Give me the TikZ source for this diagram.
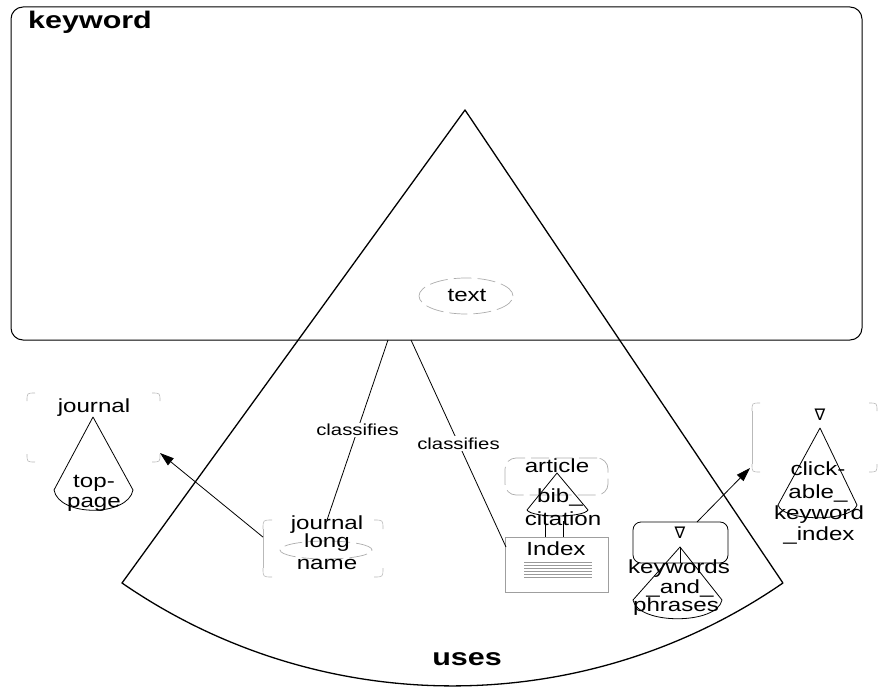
\documentclass[tikz,border=0pt]{standalone}
\usepackage{fontspec}
\setmainfont{Liberation Sans}[FakeStretch=1.27]
\newfontfamily\symfont{DejaVu Sans}
\usetikzlibrary{arrows.meta,calc,shapes.geometric}

% four rounded corner ticks of a (named) box
\newcommand\cornerticks[2]{%
  \draw[faint] ($(#1.north west)+(0,#2)$) .. controls (#1.north west) .. ($(#1.north west)+(#2,0)$);
  \draw[faint] ($(#1.north east)+(-#2,0)$) .. controls (#1.north east) .. ($(#1.north east)+(0,#2)$);
  \draw[faint] ($(#1.south west)+(0,-#2)$) .. controls (#1.south west) .. ($(#1.south west)+(#2,0)$);
  \draw[faint] ($(#1.south east)+(-#2,0)$) .. controls (#1.south east) .. ($(#1.south east)+(0,-#2)$);
}
% cone: apex, left corner, right corner, depth of the bottom curve
\newcommand\cone[4]{%
  \draw[conestroke] (#2) -- (#1) -- (#3) .. controls +(-5,#4) and +(5,#4) .. (#2);
}

\begin{document}
\begin{tikzpicture}[x=1pt,y=-1pt,
  lbl/.style={inner sep=0pt, anchor=base, font=\fontsize{19}{23}\selectfont},
  rel/.style={inner sep=1.5pt, fill=white, font=\fontsize{16}{19}\selectfont},
  heading/.style={inner sep=0pt, font=\bfseries\fontsize{24}{29}\selectfont},
  nabla/.style={inner sep=0pt, font=\symfont\fontsize{16}{16}\selectfont},
  frame/.style={draw=black, line width=1pt},
  sector/.style={draw=black, line width=1.3pt, line join=round},
  conestroke/.style={draw=black, line width=0.8pt, line join=round},
  faint/.style={draw=gray!55, line width=0.6pt},
  faintdash/.style={draw=gray!65, line width=0.7pt, dash pattern=on 18pt off 6pt},
  region/.style={inner sep=0pt, outer sep=0pt},
  link/.style={draw=black, line width=0.8pt},
  pointer/.style={link, -{Triangle[length=14pt,width=9pt]}},
]
\useasboundingbox (0,0) rectangle (878,687);

% ---------- keyword frame ----------
\node[frame, region, rounded corners=12pt, minimum width=851pt, minimum height=333pt,
      anchor=north west] (kw) at (11,7) {};
\node[heading, anchor=base west] (kwlabel) at (28,29) {keyword};

% text
\node[ellipse, faintdash, region, minimum width=94pt, minimum height=36pt] (txt) at (466,296) {};
\node[lbl] (txtlabel) at (467,301) {text};

% ---------- uses sector ----------
\coordinate (apex) at (465,110);
\coordinate (uL) at (122,583);
\draw[sector] (apex) -- (uL) arc[start angle=124.6, end angle=55.4, radius=582] -- cycle;
\node[heading, anchor=base] (uses) at (467,665) {uses};

% ---------- journal / top-page ----------
\node[region, minimum width=133pt, minimum height=69pt] (jtop) at (93.5,427.5) {};
\cornerticks{jtop}{8}
\node[lbl] (jtoplabel) at (94,412) {journal};
\coordinate (jA) at (93,417);
\coordinate (jL) at (54,490);
\coordinate (jR) at (133,490);
\cone{jA}{jL}{jR}{27}
\node[lbl] (top1) at (94,487) {top-};
\node[lbl] (top2) at (94,507) {page};

% ---------- journal long name ----------
\node[region, minimum width=120pt, minimum height=57pt] (lname) at (323,548.5) {};
\cornerticks{lname}{9}
\draw[faint] ($(lname.north west)+(0,9)$) -- ($(lname.south west)+(0,-9)$);
\node[lbl] (ln1) at (327,529) {journal};
\node[ellipse, faintdash, region, minimum width=92pt, minimum height=18pt] (lnell) at (326,550) {};
\node[lbl] (ln2) at (327,547) {long};
\node[lbl] (ln3) at (327,569) {name};

% ---------- article / bib_citation ----------
\node[faintdash, region, rounded corners=11pt, minimum width=103pt, minimum height=37pt] (art) at (556.5,476.5) {};
\node[lbl] (artlabel) at (557,472) {article};
\coordinate (bA) at (557,473);
\coordinate (bL) at (527,510);
\coordinate (bR) at (588,510);
\cone{bA}{bL}{bR}{8}
\node[lbl] (bib1) at (560,502) {bib\_};
\node[lbl] (bib2) at (563,525) {citation};

% ---------- Index ----------
\node[draw=gray!75, line width=0.6pt, region, minimum width=103pt, minimum height=55pt] (idx) at (556.5,564.5) {};
\node[lbl] (idxlabel) at (556,555) {Index};
\foreach \yy in {562,565,568,571,574,577}
  \draw[gray!80, line width=0.5pt] ($(idx.north west)+(19,\yy-537)$) -- ($(idx.north east)+(-16,\yy-537)$);
\coordinate (bt1) at (545,521);
\coordinate (bt2) at (563,521);
\draw[link, line width=0.7pt] (bt1) -- (bt1 |- idx.north);
\draw[link, line width=0.7pt] (bt2) -- (bt2 |- idx.north);

% ---------- keywords_and_phrases ----------
\node[draw=black, line width=0.8pt, region, rounded corners=8pt, minimum width=95pt, minimum height=41pt] (kwp) at (680.5,542.5) {};
\node[nabla] (nab1) at (680,533) {∇};
\coordinate (kA) at (680,547);
\coordinate (kL) at (633,600);
\coordinate (kR) at (722,600);
\cone{kA}{kL}{kR}{25}
\draw[link, line width=0.6pt] (kA) -- (kA |- kwp.south);
\node[lbl] (kp1) at (679,573) {keywords};
\node[lbl] (kp2) at (680,593) {\_and\_};
\node[lbl] (kp3) at (676,611) {phrases};

% ---------- clickable_keyword_index ----------
\node[region, minimum width=125pt, minimum height=69pt] (click) at (814.5,437.5) {};
\cornerticks{click}{8}
\draw[faint] ($(click.north west)+(0,8)$) -- ($(click.south west)+(0,-8)$);
\node[nabla] (nab2) at (820,415) {∇};
\coordinate (cA) at (820,428);
\coordinate (cL) at (778,505);
\coordinate (cR) at (857,505);
\cone{cA}{cL}{cR}{17}
\node[lbl] (ck1) at (818,475) {click-};
\node[lbl] (ck2) at (818,498) {able\_};
\node[lbl] (ck3) at (819,519) {keyword};
\node[lbl] (ck4) at (819,540) {\_index};

% ---------- relations ----------
\draw[link] ($(kw.south west)+(377,0)$) -- node[rel] {classifies} ($(lname.north)+(4,0)$);
\draw[link] ($(kw.south west)+(400,0)$) -- node[rel] {classifies} ($(idx.north west)+(1,10)$);

\draw[pointer] ($(lname.north west)!0.3!(lname.south west)$) -- ($(jtop.south east)+(0,-9)$);
\draw[pointer] ($(kwp.north)+(16.5,0)$) -- ($(click.south west)+(-2,-4)$);
\end{tikzpicture}
\end{document}
